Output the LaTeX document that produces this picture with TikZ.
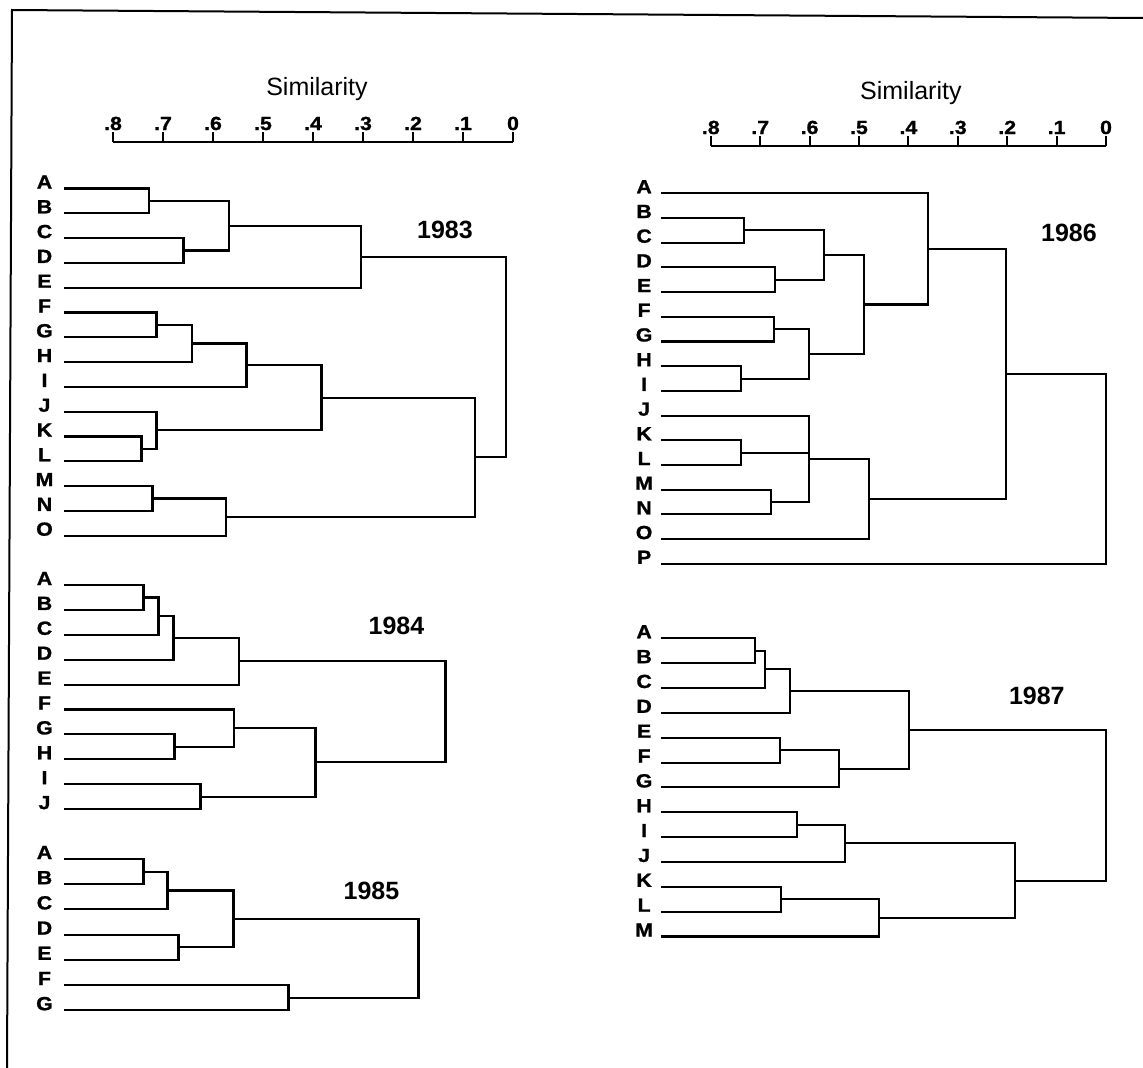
\documentclass[tikz,border=0pt]{standalone}
\usepackage{fontspec}
\setmainfont{Liberation Sans}
\newfontfamily\heavyfont[FakeStretch=1.12, BoldFeatures={FakeBold=1.2}]{Liberation Sans}
\usetikzlibrary{calc}

\tikzset{
  tree/.style={line width=2.1pt},
  leaf/.style={font=\heavyfont\bfseries\fontsize{19}{19}\selectfont, anchor=base, inner sep=0pt},
  year/.style={font=\bfseries\fontsize{25}{25}\selectfont, anchor=base, inner sep=0pt},
  ticklab/.style={font=\heavyfont\bfseries\fontsize{19}{19}\selectfont, anchor=base, inner sep=0pt},
  axtitle/.style={font=\fontsize{25}{25}\selectfont, anchor=base, inner sep=0pt},
}

% join clusters #2 and #3 at similarity #4, call the result #1
\newcommand\merge[4]{%
  \coordinate (#1) at ($(#2)!.5!(#3)$);
  \coordinate (#1) at (#4,0 |- #1);
  \draw[tree] (#2) -- (#2 -| #1) -- (#3 -| #1) -- (#3);
}

\begin{document}
\begin{tikzpicture}[x=1pt, y=-1pt]
  \useasboundingbox (0,0) rectangle (1143,1068);
  \draw[line width=2pt] (7,1068) -- (12,10) -- (1143,18);

  % left column, x in similarity
  \begin{scope}[x=-500pt, xshift=513pt]
    \foreach \s/\t [count=\i] in {0.8/.8,0.7/.7,0.6/.6,0.5/.5,0.4/.4,0.3/.3,0.2/.2,0.1/.1,0/0} {
      \coordinate (axl\i) at (\s,141.7);
      \draw[tree] (axl\i) -- ++(0,-10);
      \node[ticklab] (tkl\i) at (\s,130) {\t};
    }
    \draw[tree] (axl1) -- (axl9);
    \node[axtitle] (siml) at (0.392,95) {Similarity};

    % 1983
    \foreach \l [count=\i from 0] in {A,...,O} {
      \coordinate (\l83) at (0.898,{188.5+24.8*\i});
      \node[leaf] (t\l83) at (0.937,{188.5+24.8*\i}) {\l};
    }
    \merge{AB83}{A83}{B83}{0.728}
    \merge{CD83}{C83}{D83}{0.659}
    \merge{AD83}{AB83}{CD83}{0.568}
    \merge{AE83}{AD83}{E83}{0.304}
    \merge{FG83}{F83}{G83}{0.713}
    \merge{FH83}{FG83}{H83}{0.642}
    \merge{FI83}{FH83}{I83}{0.533}
    \merge{KL83}{K83}{L83}{0.743}
    \merge{JL83}{J83}{KL83}{0.713}
    \merge{FL83}{FI83}{JL83}{0.383}
    \merge{MN83}{M83}{N83}{0.721}
    \merge{MO83}{MN83}{O83}{0.574}
    \merge{FO83}{FL83}{MO83}{0.076}
    \merge{AO83}{AE83}{FO83}{0.014}
    \node[year] (y83) at (0.136,238) {1983};

    % 1984
    \foreach \l [count=\i from 0] in {A,...,J} {
      \coordinate (\l84) at (0.898,{585+24.9*\i});
      \node[leaf] (t\l84) at (0.937,{585+24.9*\i}) {\l};
    }
    \merge{AB84}{A84}{B84}{0.739}
    \merge{AC84}{AB84}{C84}{0.709}
    \merge{AD84}{AC84}{D84}{0.679}
    \merge{AE84}{AD84}{E84}{0.548}
    \merge{GH84}{G84}{H84}{0.677}
    \merge{FH84}{F84}{GH84}{0.558}
    \merge{IJ84}{I84}{J84}{0.625}
    \merge{FJ84}{FH84}{IJ84}{0.395}
    \merge{AJ84}{AE84}{FJ84}{0.135}
    \node[year] (y84) at (0.233,634) {1984};

    % 1985
    \foreach \l [count=\i from 0] in {A,...,G} {
      \coordinate (\l85) at (0.898,{859+25.2*\i});
      \node[leaf] (t\l85) at (0.937,{859+25.2*\i}) {\l};
    }
    \merge{AB85}{A85}{B85}{0.739}
    \merge{AC85}{AB85}{C85}{0.691}
    \merge{DE85}{D85}{E85}{0.669}
    \merge{AE85}{AC85}{DE85}{0.559}
    \merge{FG85}{F85}{G85}{0.449}
    \merge{AG85}{AE85}{FG85}{0.189}
    \node[year] (y85) at (0.283,899) {1985};
  \end{scope}

  % right column
  \begin{scope}[x=-494pt, xshift=1106pt]
    \foreach \s/\t [count=\i] in {0.8/.8,0.7/.7,0.6/.6,0.5/.5,0.4/.4,0.3/.3,0.2/.2,0.1/.1,0/0} {
      \coordinate (axr\i) at (\s,146);
      \draw[tree] (axr\i) -- ++(0,-10);
      \node[ticklab] (tkr\i) at (\s,134) {\t};
    }
    \draw[tree] (axr1) -- (axr9);
    \node[axtitle] (simr) at (0.395,99) {Similarity};

    % 1986
    \foreach \l [count=\i from 0] in {A,...,P} {
      \coordinate (\l86) at (0.901,{193.3+24.7*\i});
      \node[leaf] (t\l86) at (0.935,{193.3+24.7*\i}) {\l};
    }
    \merge{BC86}{B86}{C86}{0.733}
    \merge{DE86}{D86}{E86}{0.670}
    \merge{BE86}{BC86}{DE86}{0.571}
    \merge{FG86}{F86}{G86}{0.672}
    \merge{HI86}{H86}{I86}{0.739}
    \merge{FI86}{FG86}{HI86}{0.601}
    \merge{BI86}{BE86}{FI86}{0.490}
    \merge{AI86}{A86}{BI86}{0.361}
    \merge{KL86}{K86}{L86}{0.739}
    \merge{MN86}{M86}{N86}{0.679}
    \merge{JN86}{J86}{MN86}{0.602}
    \draw[tree] (KL86) -- (KL86 -| JN86);
    \merge{JO86}{JN86}{O86}{0.480}
    \merge{AO86}{AI86}{JO86}{0.203}
    \merge{AP86}{AO86}{P86}{0}
    \node[year] (y86) at (0.075,241) {1986};

    % 1987
    \foreach \l [count=\i from 0] in {A,...,M} {
      \coordinate (\l87) at (0.901,{638.3+24.85*\i});
      \node[leaf] (t\l87) at (0.935,{638.3+24.85*\i}) {\l};
    }
    \merge{AB87}{A87}{B87}{0.711}
    \merge{AC87}{AB87}{C87}{0.690}
    \merge{AD87}{AC87}{D87}{0.640}
    \merge{EF87}{E87}{F87}{0.660}
    \merge{EG87}{EF87}{G87}{0.540}
    \merge{AG87}{AD87}{EG87}{0.399}
    \merge{HI87}{H87}{I87}{0.626}
    \merge{HJ87}{HI87}{J87}{0.528}
    \merge{KL87}{K87}{L87}{0.658}
    \merge{KM87}{KL87}{M87}{0.460}
    \merge{HM87}{HJ87}{KM87}{0.184}
    \merge{AM87}{AG87}{HM87}{0}
    \node[year] (y87) at (0.14,704) {1987};
  \end{scope}
\end{tikzpicture}
\end{document}
